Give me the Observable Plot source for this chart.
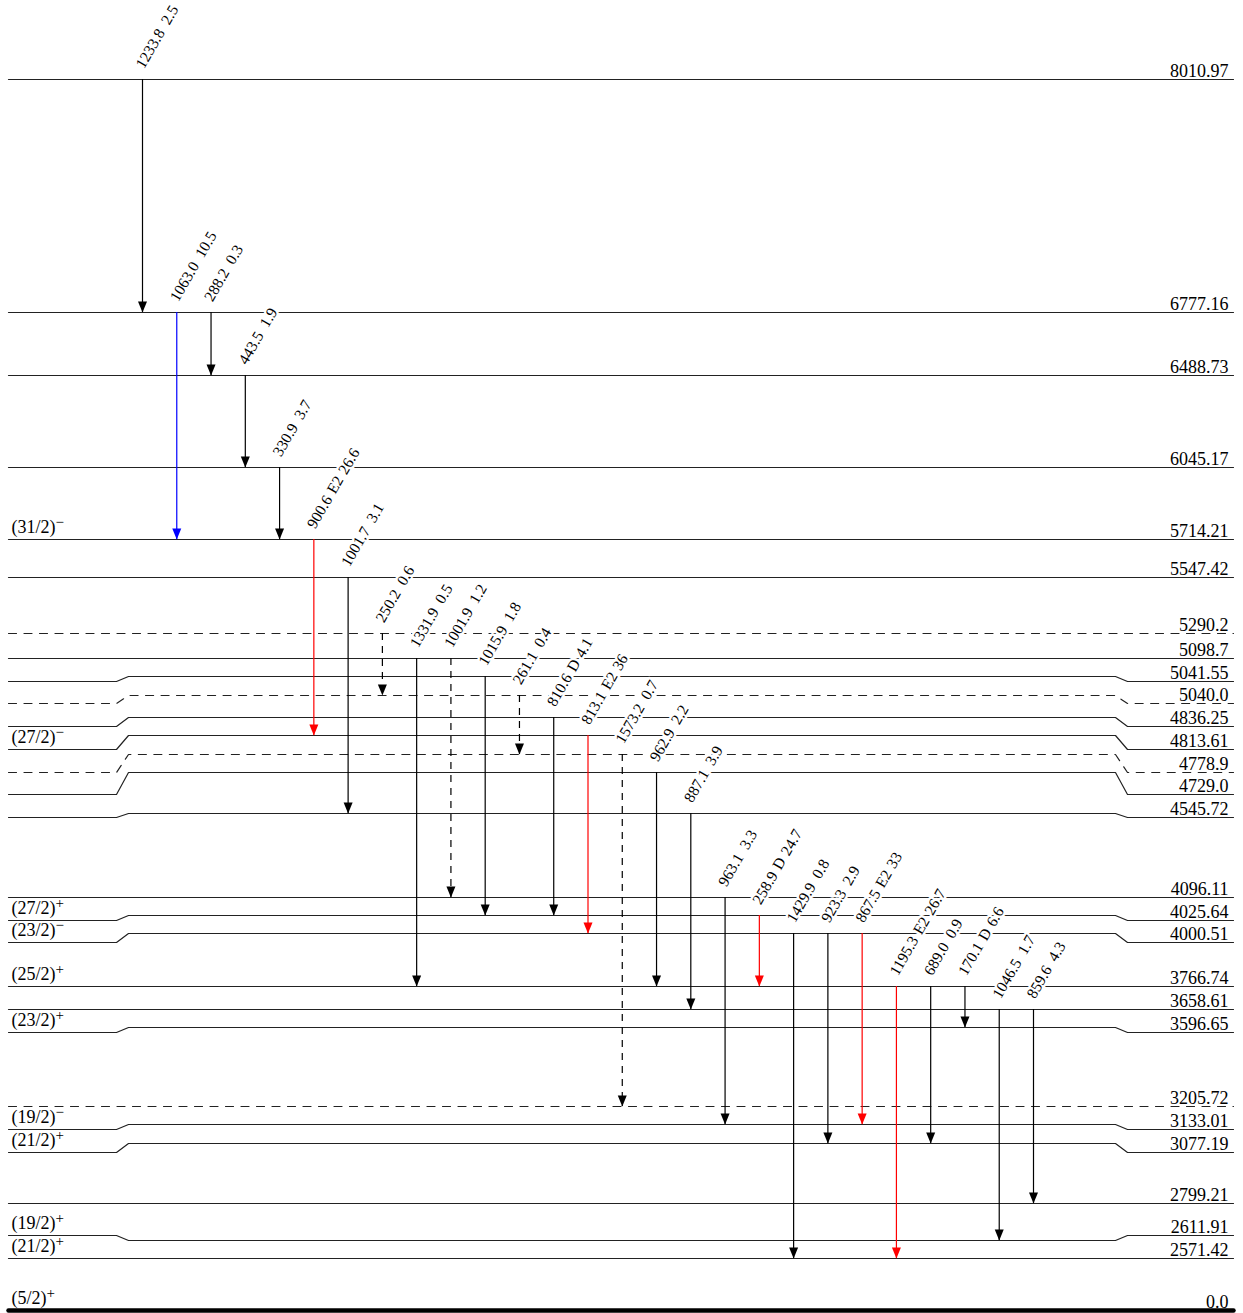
<!DOCTYPE html>
<html><head><meta charset="utf-8">
<script src="https://cdn.jsdelivr.net/npm/d3@7"></script>
<script src="https://cdn.jsdelivr.net/npm/@observablehq/plot@0.6"></script>
<style>body{margin:0;background:#fff} svg{display:block}</style>
</head><body><div id="chart"></div>
<script>
// ---------- DATA ----------
// Levels (keV), top to bottom
const levelEnergies = [8010.97, 6777.16, 6488.73, 6045.17, 5714.21, 5547.42, 5290.2, 5098.7, 5041.55, 5040.0,
  4836.25, 4813.61, 4778.9, 4729.0, 4545.72, 4096.11, 4025.64, 4000.51, 3766.74, 3658.61, 3596.65,
  3205.72, 3133.01, 3077.19, 2799.21, 2611.91, 2571.42, 0.0];
const levelLabels = ["8010.97", "6777.16", "6488.73", "6045.17", "5714.21", "5547.42", "5290.2", "5098.7", "5041.55", "5040.0",
  "4836.25", "4813.61", "4778.9", "4729.0", "4545.72", "4096.11", "4025.64", "4000.51", "3766.74", "3658.61", "3596.65",
  "3205.72", "3133.01", "3077.19", "2799.21", "2611.91", "2571.42", "0.0"];
const levelSpins = ["", "", "", "", "(31/2)−", "", "", "", "", "",
  "", "(27/2)−", "", "", "", "", "(27/2)+", "(23/2)−", "(25/2)+", "", "(23/2)+",
  "", "(19/2)−", "(21/2)+", "", "(19/2)+", "(21/2)+", "(5/2)+"];
const levelTentative = [false, false, false, false, false, false, true, false, false, true,
  false, false, true, false, false, false, false, false, false, false, false,
  true, false, false, false, false, false, false];

// Gamma transitions (left to right)
const gammaEnergies = ["1233.8", "1063.0", "288.2", "443.5", "330.9", "900.6", "1001.7", "250.2", "1331.9", "1001.9",
  "1015.9", "261.1", "810.6", "813.1", "1573.2", "962.9", "887.1", "963.1", "258.9", "1429.9",
  "923.3", "867.5", "1195.3", "689.0", "170.1", "1046.5", "859.6"];
const gammaMult = ["", "", "", "", "", "E2", "", "", "", "",
  "", "", "D", "E2", "", "", "", "", "D", "",
  "", "E2", "E2", "", "D", "", ""];
const gammaIntensity = ["2.5", "10.5", "0.3", "1.9", "3.7", "26.6", "3.1", "0.6", "0.5", "1.2",
  "1.8", "0.4", "4.1", "36", "0.7", "2.2", "3.9", "3.3", "24.7", "0.8",
  "2.9", "33", "26.7", "0.9", "6.6", "1.7", "4.3"];
const gammaFrom = [8010.97, 6777.16, 6777.16, 6488.73, 6045.17, 5714.21, 5547.42, 5290.2, 5098.7, 5098.7,
  5041.55, 5040.0, 4836.25, 4813.61, 4778.9, 4729.0, 4545.72, 4096.11, 4025.64, 4000.51,
  4000.51, 4000.51, 3766.74, 3766.74, 3766.74, 3658.61, 3658.61];
const gammaTo = [6777.16, 5714.21, 6488.73, 6045.17, 5714.21, 4813.61, 4545.72, 5040.0, 3766.74, 4096.11,
  4025.64, 4778.9, 4025.64, 4000.51, 3205.72, 3766.74, 3658.61, 3133.01, 3766.74, 2571.42,
  3077.19, 3133.01, 2571.42, 3077.19, 3596.65, 2611.91, 2799.21];
const gammaTentative = [false, false, false, false, false, false, false, true, false, true,
  false, true, false, false, true, false, false, false, false, false,
  false, false, false, false, false, false, false];
const gammaColor = ["black", "blue", "black", "black", "black", "red", "black", "black", "black", "black",
  "black", "black", "black", "red", "black", "black", "black", "black", "red", "black",
  "black", "red", "red", "black", "black", "black", "black"];

// ---------- LAYOUT (scale & drawing options) ----------
const yBreaks = [0.0, 2571.42, 2611.91, 2799.21, 3077.19, 3133.01, 3205.72, 3596.65, 3658.61, 3766.74,
  4000.51, 4025.64, 4096.11, 4545.72, 4729.0, 4778.9, 4813.61, 4836.25, 5040.0, 5041.55, 5098.7,
  5290.2, 5547.42, 5714.21, 6045.17, 6488.73, 6777.16, 8010.97];
const yPixels = [1310, 1258, 1240, 1203, 1143, 1124, 1106, 1027, 1009, 986,
  933, 915, 897, 813, 772, 754, 735, 717, 695, 676, 658,
  633, 577, 539, 467, 375, 312, 79];
// pixel shift of the level's outer ends (where labels sit)
const labelShift = {5041.55: 5, 5040.0: 8, 4836.25: 9, 4813.61: 14, 4778.9: 18, 4729.0: 22, 4545.72: 4,
  4025.64: 5, 4000.51: 9, 3596.65: 5, 3133.01: 5, 3077.19: 9, 2611.91: -5};

const X0 = 142, X1 = 1033, NCOL = 26, colW = (X1 - X0) / NCOL;
const px = p => (p - X0) / colW;
const xL = px(8), xK1 = px(116), xK2 = px(128), xK3 = px(1115), xK4 = px(1127), xR = px(1233);
const xLabelR = px(1228), xLabelL = px(11);

const yPix = d3.scaleLinear().domain(yBreaks).range(yPixels);
const sideE = e => labelShift[e] ? yPix.invert(yPix(e) + labelShift[e]) : e;

const levels = levelEnergies.map((e, i) => ({e, label: levelLabels[i], spin: levelSpins[i], dashed: levelTentative[i], side: sideE(e)}));
const pts = [];
levels.forEach((L, i) => {
  if (L.e === 0) return;
  const seq = L.side === L.e
    ? [[xL, L.e], [xR, L.e]]
    : [[xL, L.side], [xK1, L.side], [xK2, L.e], [xK3, L.e], [xK4, L.side], [xR, L.side]];
  seq.forEach(([x, y]) => pts.push({id: i, x, y, dashed: L.dashed}));
});
const ground = [{x: xL, y: 0}, {x: xR, y: 0}];

const SP = " \u200a";
const gammas = gammaEnergies.map((g, i) => ({
  col: i, from: gammaFrom[i], to: gammaTo[i], color: gammaColor[i], dashed: gammaTentative[i],
  text: gammaMult[i] ? `${g}${SP}${gammaMult[i]}${SP}${gammaIntensity[i]}` : `${g}\u2002${gammaIntensity[i]}`
}));

const FONT = "'Liberation Serif', 'Times New Roman', Times, serif";
const lineColor = "#222";

const svg = Plot.plot({
  width: 1243, height: 1313,
  marginTop: 0, marginBottom: 0, marginLeft: 0, marginRight: 0,
  style: {background: "white", fontFamily: FONT, overflow: "visible"},
  x: {type: "linear", domain: [0, NCOL], range: [X0, X1], axis: null},
  y: {type: "linear", domain: yBreaks, range: yPixels, axis: null},
  color: {type: "identity"},
  marks: [
    Plot.line(pts.filter(d => !d.dashed), {x: "x", y: "y", z: "id", stroke: lineColor, strokeWidth: 1.2}),
    Plot.line(pts.filter(d => d.dashed), {x: "x", y: "y", z: "id", stroke: lineColor, strokeWidth: 1.2, strokeDasharray: "8,7.5"}),
    Plot.line(ground, {x: "x", y: "y", stroke: "black", strokeWidth: 4.5}),
    Plot.ruleX(gammas.filter(d => !d.dashed), {x: "col", y1: "from", y2: "to", stroke: "color", strokeWidth: 1.2}),
    Plot.ruleX(gammas.filter(d => d.dashed), {x: "col", y1: "from", y2: "to", stroke: "color", strokeWidth: 1.2, strokeDasharray: "7,6"}),
    Plot.vector(gammas, {x: "col", y: "to", rotate: 180, length: 11, r: 4.5, shape: "spike", anchor: "end", fill: "color", stroke: "none"}),
    Plot.text(gammas, {x: "col", y: "from", text: "text", rotate: -60, textAnchor: "start", lineAnchor: "bottom",
      dx: 1.5, dy: -10, fontSize: 15.5, fill: "black", stroke: "white", strokeWidth: 5}),
    Plot.text(levels, {x: xLabelR, y: "side", text: "label", textAnchor: "end", lineAnchor: "bottom", dy: -3, fontSize: 18, fill: "black"}),
    Plot.text(levels.filter(d => d.spin), {x: xLabelL, y: "side", text: "spin", textAnchor: "start", lineAnchor: "bottom", dy: -6.5, fontSize: 18, fill: "black"})
  ]
});

// superscript parity signs
d3.select(svg).selectAll("text").each(function () {
  const m = this.textContent.match(/^(\(\d+\/2\))([+−])$/);
  if (m) {
    this.textContent = m[1];
    d3.select(this).append("tspan").attr("dy", -6).attr("font-size", 15).text(m[2]);
  }
});

document.getElementById("chart").appendChild(svg);
</script>
</body></html>
